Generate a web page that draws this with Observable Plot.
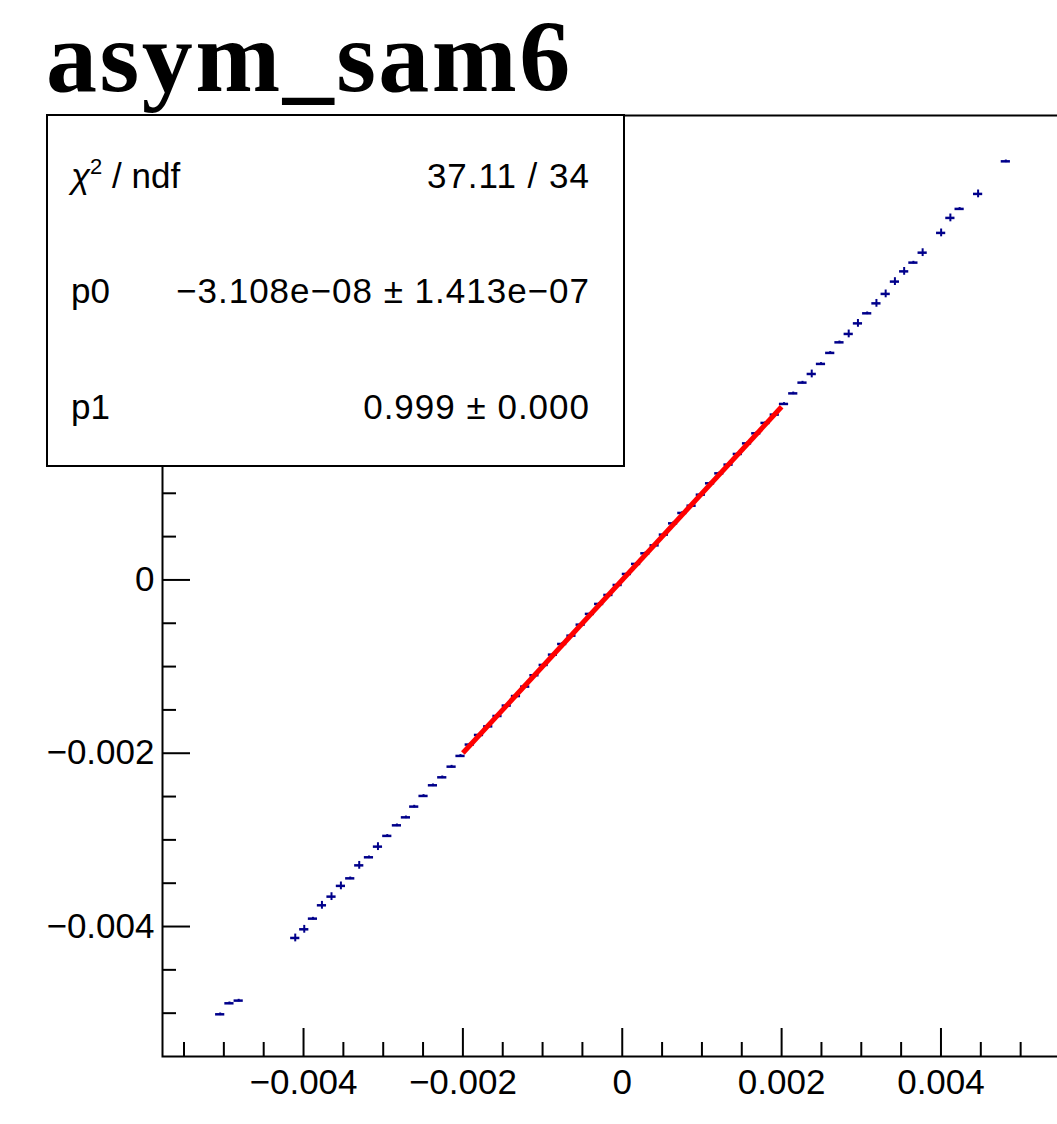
<!DOCTYPE html>
<html><head><meta charset="utf-8">
<script src="https://cdn.jsdelivr.net/npm/d3@7"></script>
<script src="https://cdn.jsdelivr.net/npm/@observablehq/plot@0.6"></script>
<style>
html,body{margin:0;padding:0;background:#fff;overflow:hidden;width:1057px;height:1124px;}
#wrap{position:relative;width:1057px;height:1124px;overflow:hidden;}
#wrap svg{position:absolute;left:0;top:0;max-width:none !important;}
</style></head><body><div id="wrap"></div>
<script>
// ---------- data ----------
const title = "asym_sam6";
const binX = [
  -0.005046, -0.004930, -0.004814,
  -0.004104, -0.003991, -0.003882, -0.003769, -0.003649, -0.003531, -0.003414, -0.003301,
  -0.003179, -0.003066, -0.002949, -0.002828, -0.002715, -0.002611, -0.002494, -0.002376,
  -0.002259, -0.002142, -0.002030,
  -0.001914, -0.001798, -0.001682, -0.001566, -0.001450, -0.001334, -0.001218, -0.001102,
  -0.000986, -0.000870, -0.000754, -0.000638, -0.000522, -0.000406, -0.000290, -0.000174,
  -0.000058, 0.000058, 0.000174, 0.000290, 0.000406, 0.000522, 0.000638, 0.000754,
  0.000870, 0.000986, 0.001102, 0.001218, 0.001334, 0.001450, 0.001566, 0.001682,
  0.001798, 0.001914,
  0.002030, 0.002146, 0.002262, 0.002378, 0.002494, 0.002610, 0.002726, 0.002842,
  0.002958, 0.003074, 0.003190, 0.003306, 0.003422, 0.003538, 0.003654, 0.003770,
  0.004002, 0.004118, 0.004234, 0.004466, 0.004814
];
const binY = [
  -0.005013, -0.004886, -0.004855,
  -0.004132, -0.004032, -0.003909, -0.003755, -0.003655, -0.003531, -0.003444, -0.003294,
  -0.003201, -0.003078, -0.002954, -0.002832, -0.002740, -0.002616, -0.002493, -0.002370,
  -0.002278, -0.002155, -0.002031,
  -0.001900, -0.001789, -0.001690, -0.001570, -0.001450, -0.001340, -0.001231, -0.001100,
  -0.000981, -0.000862, -0.000739, -0.000643, -0.000516, -0.000392, -0.000277, -0.000173,
  -0.000058, 0.000069, 0.000185, 0.000307, 0.000399, 0.000523, 0.000653, 0.000773,
  0.000857, 0.000984, 0.001115, 0.001230, 0.001331, 0.001454, 0.001576, 0.001692,
  0.001812, 0.001908,
  0.002031, 0.002153, 0.002277, 0.002377, 0.002493, 0.002620, 0.002742, 0.002839,
  0.002961, 0.003077, 0.003192, 0.003301, 0.003443, 0.003561, 0.003662, 0.003777,
  0.004005, 0.004178, 0.004282, 0.004455, 0.004831
];
const binYErr = [
  0.000015, 0.000015, 0.000015,
  0.000045, 0.000045, 0.000015, 0.000045, 0.000045, 0.000045, 0.000015, 0.000045,
  0.000015, 0.000045, 0.000015, 0.000015, 0.000015, 0.000015, 0.000015, 0.000015,
  0.000015, 0.000015, 0.000015,
  0.000015, 0.000015, 0.000015, 0.000015, 0.000015, 0.000015, 0.000015, 0.000015,
  0.000015, 0.000015, 0.000015, 0.000015, 0.000015, 0.000015, 0.000015, 0.000015,
  0.000015, 0.000015, 0.000015, 0.000015, 0.000015, 0.000015, 0.000015, 0.000015,
  0.000015, 0.000015, 0.000015, 0.000015, 0.000015, 0.000015, 0.000015, 0.000015,
  0.000015, 0.000015,
  0.000015, 0.000015, 0.000015, 0.000045, 0.000015, 0.000015, 0.000015, 0.000045,
  0.000045, 0.000015, 0.000045, 0.000045, 0.000045, 0.000045, 0.000015, 0.000045,
  0.000045, 0.000045, 0.000015, 0.000045, 0.000015
];
const binHalfWidth = 0.0000577;
const fitRange = [-0.002, 0.002];
const fitP0 = -3.108e-08;
const fitP1 = 0.999;
const statsLabels = ["χ", "p0", "p1"];
const statsValues = ["37.11 / 34", "\u22123.108e\u221208 \u00b1 1.413e\u221207", "0.999 \u00b1 0.000"];
const xDomain = [-0.00577, 0.00577];
const yDomain = [-0.0055, 0.00536];
const xMajorTicks = [-0.004, -0.002, 0, 0.002, 0.004];
const xMinorTicks = [-0.0055, -0.005, -0.0045, -0.0035, -0.003, -0.0025, -0.0015, -0.001, -0.0005,
  0.0005, 0.001, 0.0015, 0.0025, 0.003, 0.0035, 0.0045, 0.005, 0.0055];
const yMajorTicks = [-0.004, -0.002, 0, 0.002, 0.004];
const yLabelTicks = [-0.004, -0.002, 0];
const yMinorTicks = [-0.005, -0.0045, -0.0035, -0.003, -0.0025, -0.0015, -0.001, -0.0005,
  0.0005, 0.001, 0.0015, 0.0025, 0.003, 0.0035, 0.0045, 0.005];

// ---------- layout ----------
const W = 1090, H = 1124;
const mL = 162, mR = 8.5, mT = 115, mB = 68;
const plotH = H - mT - mB;
const plotW = W - mL - mR;
const navy = "#00008b";
const sans = "'Liberation Sans', Arial, Helvetica, sans-serif";

const pts = binX.map((x, i) => ({x, y: binY[i], e: binYErr[i]}));
const fitPts = fitRange.map(x => ({x, y: fitP0 + fitP1 * x}));
const fmt = d => d === 0 ? "0" : (d < 0 ? "\u2212" : "") + Math.abs(d).toFixed(3);

const chart = Plot.plot({
  width: W, height: H,
  marginLeft: mL, marginRight: mR, marginTop: mT, marginBottom: mB,
  x: {domain: xDomain},
  y: {domain: yDomain},
  style: {fontFamily: sans, background: "white", color: "black", maxWidth: "none"},
  marks: [
    Plot.ruleX(pts, {x: "x", y1: d => d.y - d.e, y2: d => d.y + d.e, stroke: navy, strokeWidth: 2}),
    Plot.ruleY(pts, {y: "y", x1: d => d.x - binHalfWidth, x2: d => d.x + binHalfWidth, stroke: navy, strokeWidth: 2.5}),
    Plot.line(fitPts, {x: "x", y: "y", stroke: "#ff0000", strokeWidth: 5, strokeLinecap: "butt"}),
    Plot.tickX(xMajorTicks, {x: d => d, insetTop: plotH - 28, stroke: "black", strokeWidth: 2}),
    Plot.tickX(xMinorTicks, {x: d => d, insetTop: plotH - 14, stroke: "black", strokeWidth: 2}),
    Plot.tickY(yMajorTicks, {y: d => d, insetRight: plotW - 28, stroke: "black", strokeWidth: 2}),
    Plot.tickY(yMinorTicks, {y: d => d, insetRight: plotW - 14, stroke: "black", strokeWidth: 2}),
    Plot.axisX(xMajorTicks, {tickSize: 0, tickPadding: 13, fontSize: 35, tickFormat: fmt, label: null}),
    Plot.axisY(yLabelTicks, {tickSize: 0, tickPadding: 8, fontSize: 35, tickFormat: fmt, label: null}),
    Plot.frame({stroke: "black", strokeWidth: 2})
  ]
});
document.getElementById("wrap").appendChild(chart);

// ---------- title and fit statistics box ----------
const ov = d3.select("#wrap").append("svg")
  .attr("width", 1057).attr("height", 1124);
ov.append("text")
  .attr("x", 46).attr("y", 91)
  .attr("font-family", "'Liberation Serif', 'Times New Roman', serif")
  .attr("font-weight", "bold").attr("font-size", 102)
  .attr("letter-spacing", 2.5)
  .attr("fill", "black")
  .text(title);
ov.append("rect")
  .attr("x", 47).attr("y", 115).attr("width", 577).attr("height", 351)
  .attr("fill", "white").attr("stroke", "black").attr("stroke-width", 2);
const rowY = [188, 303, 419];
statsLabels.forEach((lab, i) => {
  const t = ov.append("text").attr("x", 71).attr("y", rowY[i])
    .attr("font-family", sans).attr("font-size", 35).attr("fill", "black");
  if (i === 0) {
    t.append("tspan").attr("font-style", "italic").text(lab);
    t.append("tspan").attr("font-size", 22).attr("dy", -14).text("2");
    t.append("tspan").attr("dy", 14).text(" / ndf");
  } else {
    t.text(lab);
  }
  ov.append("text").attr("x", 590).attr("y", rowY[i])
    .attr("text-anchor", "end")
    .attr("font-family", sans).attr("font-size", 35).attr("fill", "black")
    .attr("letter-spacing", 1)
    .text(statsValues[i]);
});
</script></body></html>
